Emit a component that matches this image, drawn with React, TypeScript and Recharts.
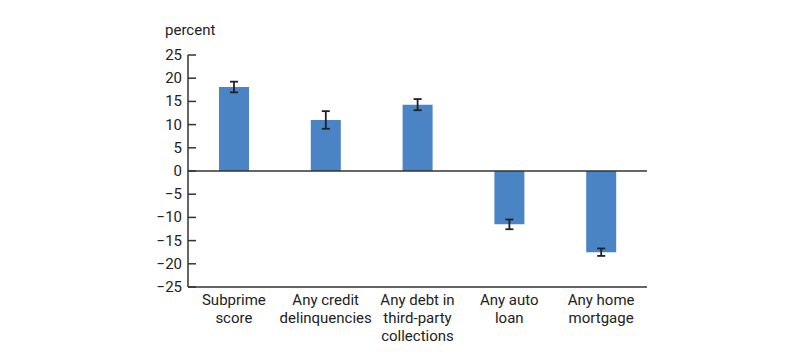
import React from "react";
import {
  BarChart,
  Bar,
  XAxis,
  YAxis,
  ErrorBar,
  ReferenceLine,
} from "recharts";

const categories = [
  "Subprime\nscore",
  "Any credit\ndelinquencies",
  "Any debt in\nthird-party\ncollections",
  "Any auto\nloan",
  "Any home\nmortgage",
];
const values = [18.1, 11.0, 14.3, -11.5, -17.5];
const errors = [1.15, 1.9, 1.2, 1.05, 0.8];
const yTicks = [-25, -20, -15, -10, -5, 0, 5, 10, 15, 20, 25];

const data = categories.map((name, i) => ({
  name,
  value: values[i],
  err: errors[i],
}));

const FONT = "Roboto, 'Noto Sans', sans-serif";
const AXIS = "#333333";
const LEFT = 188;

const YTick = (props: any) => {
  const { y, payload } = props;
  const label = payload.value < 0 ? "\u2212" + Math.abs(payload.value) : String(payload.value);
  return (
    <g>
      <line x1={LEFT} x2={LEFT + 8} y1={y} y2={y} stroke={AXIS} strokeWidth={1.5} />
      <text x={LEFT - 6} y={y} dy={5} textAnchor="end" fontSize={15} fill="#222" fontFamily={FONT}>
        {label}
      </text>
    </g>
  );
};

const XTick = (props: any) => {
  const { x, payload } = props;
  const lines = String(payload.value).split("\n");
  return (
    <text x={x} y={305} textAnchor="middle" fontSize={15} fill="#222" fontFamily={FONT}>
      {lines.map((l, i) => (
        <tspan key={i} x={x} dy={i === 0 ? 0 : 18}>
          {l}
        </tspan>
      ))}
    </text>
  );
};

export default function App() {
  return (
    <div style={{ position: "absolute", left: 0, top: 0, background: "#fff" }}>
      <BarChart
        width={800}
        height={364}
        data={data}
        margin={{ top: 55, right: 153, bottom: 0, left: 0 }}
      >
        <text x={165} y={35} fontSize={15} fill="#222" fontFamily={FONT}>
          percent
        </text>
        <YAxis
          width={188}
          domain={[-25, 25]}
          ticks={yTicks}
          interval={0}
          axisLine={{ stroke: AXIS, strokeWidth: 1.5 }}
          tickLine={false}
          tick={<YTick />}
        />
        <XAxis
          dataKey="name"
          height={77}
          interval={0}
          axisLine={{ stroke: AXIS, strokeWidth: 1.5 }}
          tickLine={false}
          tick={<XTick />}
        />
        <ReferenceLine y={0} stroke={AXIS} strokeWidth={1.5} />
        <Bar dataKey="value" fill="#4a84c5" barSize={30} isAnimationActive={false}>
          <ErrorBar dataKey="err" width={4} stroke="#222" strokeWidth={1.8} isAnimationActive={false} />
        </Bar>
      </BarChart>
    </div>
  );
}
